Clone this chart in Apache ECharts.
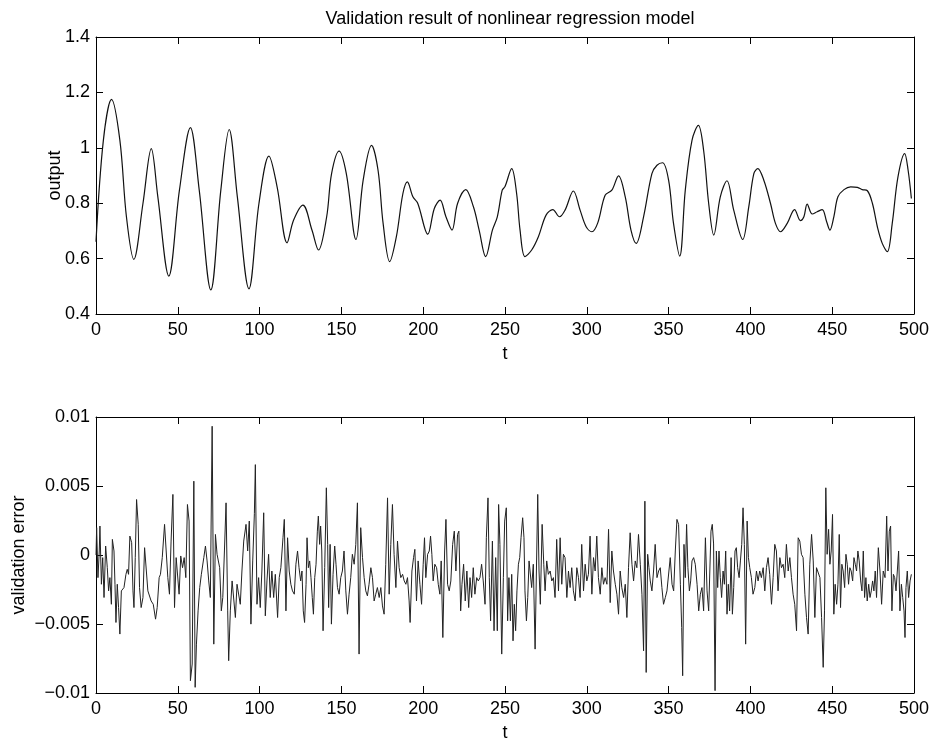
<!DOCTYPE html>
<html>
<head>
<meta charset="utf-8">
<script src="https://cdn.jsdelivr.net/npm/echarts@6/dist/echarts.min.js"></script>
<style>html,body{margin:0;padding:0;background:#fff;}#chart{width:934px;height:742px;}</style>
</head>
<body>
<div id="chart"></div>
<script>
const titleText = 'Validation result of nonlinear regression model';
const xTicks = [0, 50, 100, 150, 200, 250, 300, 350, 400, 450, 500];
const outputTicks = [0.4, 0.6, 0.8, 1, 1.2, 1.4];
const errorTicks = [-0.01, -0.005, 0, 0.005, 0.01];

// [t, output]
const outputData = [
[0,0.661],[4.5,1.027],[9.5,1.175],[14.6,1.027],[18.6,0.751],[23.1,0.597],[28.7,0.799],[33.8,0.997],[37.8,0.823],
[44.5,0.537],[51,0.847],[57.7,1.073],[63.1,0.847],[70.2,0.487],[76.3,0.847],[81.4,1.066],[86.4,0.823],[93.5,0.491],
[99.6,0.799],[105.7,0.970],[110.7,0.859],[116.8,0.657],[120.8,0.739],[126.5,0.793],[132,0.703],[136,0.631],[141,0.751],
[144,0.907],[148.6,0.988],[153,0.907],[158.9,0.669],[163.3,0.883],[168.4,1.009],[172.4,0.919],[175.5,0.727],[179.5,0.589],
[183.6,0.679],[187.6,0.835],[190.3,0.877],[193.7,0.823],[196.7,0.799],[202.8,0.688],[206.8,0.781],[210.3,0.811],[213.9,0.751],
[217.6,0.703],[221,0.799],[226,0.849],[230.7,0.787],[234.2,0.703],[238.2,0.607],[242.3,0.703],[245.3,0.751],[248.3,0.847],
[250,0.860],[254.1,0.925],[257.1,0.835],[259.2,0.703],[262.2,0.607],[266.3,0.631],[270.4,0.679],[275.1,0.757],[279.2,0.777],
[283.3,0.751],[286.7,0.775],[291.8,0.844],[295.9,0.775],[299.6,0.715],[303.1,0.697],[306.7,0.729],[311.2,0.829],[315.3,0.847],
[319.4,0.899],[323.5,0.823],[327,0.703],[330.2,0.655],[334.7,0.751],[339.8,0.907],[342.9,0.937],[346.3,0.946],[350,0.883],
[353,0.727],[356.8,0.609],[360.2,0.847],[364.3,1.027],[368.2,1.081],[371.4,0.991],[374.5,0.799],[377.6,0.685],[381.6,0.823],
[385.7,0.881],[389.8,0.775],[395.3,0.669],[399,0.787],[402.1,0.907],[404.5,0.925],[408.2,0.883],[412.3,0.799],[415.3,0.727],
[418.4,0.697],[422.5,0.727],[427,0.777],[430.6,0.737],[432.7,0.751],[434.7,0.797],[437.8,0.761],[440.8,0.769],[443.9,0.777],
[446.6,0.733],[448.6,0.703],[451,0.751],[453.5,0.823],[457.2,0.849],[461.3,0.859],[465.4,0.857],[468.4,0.849],[471.5,0.845],
[474.6,0.799],[477.6,0.715],[480.6,0.655],[483.7,0.625],[486.7,0.727],[490.2,0.895],[494.3,0.979],[496.4,0.919],[498.4,0.817]
];

// [t, validation error]
const errorData = [
[0,0],[0.4,0.00198],[1.2,-0.00164],[2.0,0.00029],[2.4,0.0021],[3.3,-0.00212],[4.1,-0.00019],[4.9,-0.00308],[5.9,0.00065],
[6.9,-0.00092],[7.7,-0.0026],[8.5,-0.00164],[9.4,-0.00357],[10.0,0.00113],[11.0,0.00029],[11.6,-0.00212],[12.2,-0.00489],
[13.0,-0.00212],[13.8,-0.00381],[14.6,-0.00573],[15.5,-0.0026],[17.1,-0.00236],[18.3,-0.0014],[19.1,-0.00104],[19.9,-0.0014],
[20.7,0.00137],[21.8,0.00089],[22.6,-0.0026],[23.2,-0.00381],[24.0,-0.00019],[24.8,0.00402],[25.8,0.00222],[26.6,-0.00236],
[27.6,-0.00381],[28.7,-0.00308],[29.7,0.00053],[30.7,0.00053],[31.7,-0.0026],[32.7,-0.00272],[33.7,-0.00333],[35.0,-0.00357],
[36.4,-0.00465],[37.4,-0.00381],[38.6,-0.00164],[39.4,-0.0014],[40.5,-0.00019],[41.9,0.00222],[42.9,0.00029],[43.9,-0.00164],
[44.9,-0.00284],[45.9,0.00101],[47.0,0.00439],[48.0,-0.00381],[49.0,-0.00019],[50.0,-0.00019],[50.8,-0.00284],[51.8,-0.00007],
[52.9,-0.00092],[53.9,-0.00019],[54.9,-0.00164],[55.9,0.00366],[56.9,0.00246],[57.7,-0.00911],[58.8,-0.0079],[59.8,0.00535],
[60.6,-0.00959],[61.4,-0.00646],[62.4,-0.00405],[63.4,-0.00236],[64.4,-0.0014],[65.9,-0.00019],[66.9,0.00065],[67.9,-0.00043],
[68.9,-0.00188],[69.9,-0.00308],[71.0,0.00933],[72.0,-0.00646],[73.0,0.00149],[74.0,0.00005],[75.6,-0.00092],[76.6,-0.00405],
[77.5,-0.00308],[78.5,0.00029],[79.5,0.00378],[80.5,-0.00405],[81.1,-0.00766],[82.1,-0.00405],[83.2,-0.00188],[84.2,-0.00176],
[85.2,-0.00453],[86.2,-0.00212],[87.2,-0.00212],[88.2,-0.00357],[89.2,-0.00116],[90.3,0.00101],[91.7,0.00222],[92.7,0.00029],
[93.7,0.00246],[94.7,-0.00501],[95.8,-0.00043],[96.8,0.00299],[97.4,0.00655],[98.4,-0.00357],[99.4,-0.00164],[100.4,-0.00381],
[101.4,-0.00116],[102.5,0.00306],[103.5,-0.00441],[104.5,-0.00188],[105.5,0.00005],[106.5,-0.00308],[107.5,-0.00116],
[108.6,-0.00308],[109.6,-0.0014],[111.0,-0.00453],[112.0,-0.00164],[113.0,-0.00092],[114.3,0.00125],[115.1,0.00258],
[116.1,-0.00405],[117.1,0.00125],[118.1,-0.00116],[119.1,-0.00212],[120.1,-0.0026],[121.2,-0.00284],[122.2,-0.00067],
[123.2,0.00029],[124.1,-0.00092],[125.1,-0.00188],[125.9,-0.00116],[126.7,-0.00405],[127.5,-0.00489],[128.4,-0.00212],
[129.0,0.00125],[129.8,-0.00092],[130.6,-0.00043],[131.4,-0.00164],[132.2,-0.00308],[132.9,-0.00429],[133.7,-0.00164],
[134.5,-0.00067],[135.3,0.00173],[135.9,0.00282],[136.7,0.00077],[137.3,0.0021],[138.0,0.00029],[138.8,-0.00549],
[139.8,-0.00092],[140.8,0.00487],[141.6,0.00077],[142.2,-0.00381],[143.1,0.00077],[143.9,-0.00501],[144.9,-0.0014],
[145.9,0.00065],[146.7,-0.00067],[147.6,-0.00236],[148.6,-0.00284],[149.6,-0.00164],[150.6,-0.00116],[151.6,0.00029],
[152.7,-0.0026],[153.7,-0.00429],[154.7,-0.00284],[155.7,-0.00164],[156.7,0.00005],[157.8,-0.00067],[158.8,0.00077],
[159.8,0.00378],[160.8,-0.00718],[161.8,0.00198],[162.9,-0.00019],[163.9,-0.00164],[164.9,-0.0026],[165.9,-0.00296],
[166.9,-0.00212],[168.0,-0.00092],[169.0,-0.00164],[170.0,-0.00333],[171.0,-0.00284],[172.0,-0.00236],[173.1,-0.00308],
[174.1,-0.00236],[175.1,-0.00369],[176.1,-0.00429],[177.1,-0.00067],[178.2,0.00414],[179.2,-0.00284],[180.2,0.00077],
[181.2,0.00366],[182.2,0.00005],[183.3,-0.00236],[184.3,0.00101],[185.3,-0.00092],[186.3,-0.00164],[187.4,-0.0014],
[188.4,-0.00188],[189.4,-0.00212],[190.4,-0.00164],[191.4,-0.00333],[192.0,-0.00489],[193.1,-0.00116],[194.1,-0.00019],
[194.9,0.00041],[195.9,-0.00333],[196.9,-0.00043],[198.0,-0.00212],[199.0,-0.00357],[200.0,-0.00067],[200.8,0.00125],
[201.6,-0.00164],[202.7,0.00005],[203.7,0.00029],[204.5,0.00137],[205.3,0.00005],[206.1,-0.00188],[207.1,-0.00067],
[208.2,-0.00092],[209.2,-0.00212],[210.2,-0.00284],[211.0,-0.00043],[212.0,-0.00598],[213.1,0.00029],[213.9,0.00258],
[214.9,-0.00212],[215.9,-0.0026],[216.9,-0.00188],[218.0,0.00077],[219.0,0.00173],[220.0,-0.00116],[221.0,0.00149],
[221.8,0.00173],[222.9,-0.00405],[223.7,-0.00212],[224.7,-0.00067],[225.7,-0.00333],[226.7,-0.00116],[227.8,-0.00381],
[228.6,-0.00164],[229.6,-0.00308],[230.6,-0.00092],[231.6,-0.00284],[232.7,-0.00164],[233.7,-0.00188],[234.7,-0.00164],
[235.7,-0.00067],[236.7,-0.00188],[237.8,-0.00357],[238.6,0.00125],[239.6,0.00414],[240.4,-0.00164],[241.2,-0.00477],
[242.3,0.00101],[243.3,-0.00549],[244.3,-0.00019],[245.3,-0.00549],[246.1,0.00366],[246.9,0.00077],[248.0,-0.00718],
[249.0,-0.00164],[249.8,0.00246],[250.8,0.00342],[251.6,-0.00477],[252.4,-0.00164],[253.3,-0.00477],[254.1,-0.0014],
[254.9,-0.00622],[255.7,-0.00357],[256.5,-0.00549],[257.3,-0.0026],[258.2,-0.00067],[259.0,-0.00019],[259.8,0.00125],
[260.8,0.0027],[261.6,0.00125],[262.2,-0.0026],[263.1,-0.00477],[263.9,-0.00308],[264.7,-0.00043],[265.5,-0.00043],
[266.3,-0.00236],[267.3,-0.00067],[268.4,-0.00682],[269.2,-0.00116],[270.0,0.00439],[270.8,-0.00116],[271.6,-0.00357],
[272.7,0.00222],[273.7,-0.00067],[274.5,-0.0026],[275.5,-0.00043],[276.5,-0.0014],[277.6,-0.00116],[278.6,-0.00188],
[279.6,-0.00164],[280.6,-0.00308],[281.6,0.00113],[282.7,-0.0026],[283.7,0.00125],[284.7,-0.00212],[285.7,0.00005],
[286.7,-0.00019],[287.8,-0.00308],[288.8,-0.00116],[289.8,-0.00236],[290.8,-0.00092],[291.8,-0.0026],[292.9,-0.00333],
[293.9,-0.00092],[294.9,-0.00164],[295.9,-0.00308],[296.9,0.00077],[298.0,-0.0026],[299.0,-0.00067],[300.0,-0.00188],
[301.0,-0.0014],[302.0,0.00137],[303.1,-0.00284],[304.1,-0.00019],[305.1,-0.00116],[306.1,0.00137],[307.1,-0.00164],
[308.2,-0.00284],[309.2,-0.00092],[310.2,-0.00212],[311.2,-0.00164],[312.3,-0.00212],[313.3,0.00186],[314.3,-0.00345],
[315.3,0.00029],[316.3,-0.00116],[317.4,-0.00212],[318.4,-0.00284],[319.4,-0.00429],[320.4,-0.00116],[321.4,-0.00236],
[322.5,-0.00308],[323.5,-0.00212],[324.5,-0.00453],[325.5,-0.00092],[326.5,0.00161],[327.6,-0.00067],[328.6,-0.00188],
[329.6,-0.00043],[330.6,-0.00092],[331.6,0.00149],[332.7,-0.00067],[333.7,-0.00284],[334.7,-0.00694],[335.5,0.0039],
[336.3,-0.00851],[337.2,0.00005],[338.0,-0.00092],[338.8,-0.00188],[339.8,-0.0026],[340.8,-0.00116],[341.8,0.00077],
[342.9,-0.00164],[343.9,-0.00116],[344.9,-0.00092],[345.9,-0.00236],[346.9,-0.00357],[348.0,-0.00308],[349.0,-0.0026],
[350.0,-0.0026],[351.0,-0.00019],[352.1,-0.00212],[353.1,-0.0026],[354.1,0.00029],[355.1,0.00258],[356.1,0.00222],
[357.2,-0.00212],[358.0,-0.00525],[358.6,-0.00875],[359.4,0.00077],[360.2,-0.00164],[361.0,0.00222],[361.8,-0.00092],
[362.7,-0.0026],[363.5,-0.00188],[364.3,-0.00043],[365.3,-0.00019],[366.3,-0.00067],[367.4,-0.00212],[368.4,-0.00405],
[369.4,-0.00284],[370.4,-0.00236],[371.4,-0.00405],[372.5,0.00125],[373.5,-0.0026],[374.5,-0.00405],[375.9,0.00173],
[376.7,0.00222],[377.5,0.0008],[378.4,-0.00983],[379.2,0.00029],[380.0,-0.00236],[380.8,0.00029],[381.6,-0.00164],
[382.4,-0.00308],[383.3,-0.00116],[384.1,-0.00212],[384.9,0.00029],[385.7,-0.00429],[386.5,-0.00212],[387.3,-0.00405],
[388.2,-0.00019],[389.0,-0.00429],[389.8,-0.00236],[390.6,0.00029],[391.4,0.00053],[392.2,-0.00092],[393.1,-0.00164],
[393.9,-0.00043],[394.7,0.00077],[395.5,0.00342],[396.3,0.00077],[397.1,-0.00646],[398.0,0.00246],[398.8,-0.00019],
[399.6,-0.00092],[400.6,-0.00164],[401.6,-0.00284],[402.7,-0.00236],[403.7,-0.00116],[404.7,-0.00188],[405.7,-0.00116],
[406.7,-0.00164],[407.8,-0.00092],[408.8,-0.0026],[409.8,-0.00092],[410.8,-0.00019],[411.8,-0.0014],[412.9,-0.00357],
[413.9,-0.00164],[414.9,0.00077],[415.9,0.00029],[416.9,-0.0026],[418.0,-0.00019],[419.0,-0.00092],[420.0,-0.00067],
[421.0,-0.00164],[422.0,0.00077],[423.1,-0.00116],[424.1,-0.00019],[425.1,-0.00164],[426.1,-0.00284],[427.1,-0.00357],
[428.2,-0.00549],[429.2,0.00125],[430.2,0.00101],[431.2,0.00005],[432.2,-0.00019],[433.3,-0.00284],[434.3,-0.00453],
[435.3,-0.00573],[436.3,-0.00067],[437.4,0.00149],[438.4,-0.00043],[439.4,-0.00453],[440.4,-0.00092],[441.4,-0.00092],
[442.5,-0.00164],[443.5,-0.00453],[444.5,-0.00814],[445.3,-0.00405],[446.1,0.00487],[446.9,0.00005],[447.8,0.00186],
[448.6,-0.00067],[449.4,0.00029],[450.2,0.00294],[451.0,-0.00429],[451.8,-0.00212],[452.7,-0.00357],[453.5,-0.00212],
[454.3,0.00149],[455.1,-0.00381],[455.9,-0.00067],[456.7,-0.00116],[457.6,-0.00236],[458.4,0.00005],[459.2,-0.00067],
[460.0,-0.00212],[460.8,-0.00092],[461.6,-0.00116],[462.5,-0.00188],[463.3,-0.00019],[464.1,-0.00067],[464.9,-0.00116],
[465.7,0.00029],[466.5,-0.00043],[467.4,-0.00188],[468.2,-0.0026],[469.0,0.00029],[469.8,-0.00308],[470.6,-0.00164],
[471.4,-0.00333],[472.3,-0.00212],[473.1,-0.00308],[473.9,-0.0026],[474.7,-0.00188],[475.5,-0.0026],[476.3,-0.00116],
[477.1,-0.00308],[478.2,0.00053],[479.2,-0.00116],[480.2,-0.00357],[481.2,-0.00116],[482.3,-0.00164],[483.3,0.00282],
[484.1,-0.00116],[484.9,0.00173],[485.7,0.0021],[486.5,-0.00405],[487.4,-0.0014],[488.2,-0.00164],[489.0,-0.0026],
[489.8,-0.00116],[490.6,0.00029],[491.4,-0.00405],[492.3,-0.00212],[493.1,-0.00308],[493.9,-0.00405],[494.5,-0.00598],
[495.1,-0.00236],[495.9,-0.00116],[496.7,-0.00308],[497.6,-0.00188],[498.4,-0.0014]
];

const FONT = '"Liberation Sans", Arial, Helvetica, sans-serif';
const FS = 18;
const fmtNum = v => {
  let s = String(+v.toFixed(6));
  return s.replace('-', '\u2212');
};
const chart = echarts.init(document.getElementById('chart'), null, {renderer: 'canvas'});

const axisLine = {show: true, onZero: false, lineStyle: {color: '#000', width: 1}};
const tick = {show: true, inside: true, length: 7, lineStyle: {color: '#000', width: 1}};
const lbl = {color: '#000', fontSize: FS, fontFamily: FONT};
const nameStyle = {color: '#000', fontSize: FS, fontFamily: FONT};

function xAxes(gi) {
  return [
    {gridIndex: gi, type: 'value', min: 0, max: 500, interval: 50, position: 'bottom',
     axisLine, axisTick: tick, splitLine: {show: false},
     axisLabel: Object.assign({margin: 7, formatter: v => String(v)}, lbl),
     name: 't', nameLocation: 'middle', nameGap: 31, nameMoveOverlap: false, nameTextStyle: nameStyle},
    {gridIndex: gi, type: 'value', min: 0, max: 500, interval: 50, position: 'top',
     axisLine, axisTick: tick, splitLine: {show: false}, axisLabel: {show: false}}
  ];
}
function yAxes(gi, mn, mx, iv, name, gap) {
  return [
    {gridIndex: gi, type: 'value', min: mn, max: mx, interval: iv, position: 'left',
     axisLine, axisTick: tick, splitLine: {show: false},
     axisLabel: Object.assign({margin: 6, formatter: fmtNum}, lbl),
     name: name, nameLocation: 'middle', nameGap: gap, nameRotate: 90, nameMoveOverlap: false, nameTextStyle: nameStyle},
    {gridIndex: gi, type: 'value', min: mn, max: mx, interval: iv, position: 'right',
     axisLine, axisTick: tick, splitLine: {show: false}, axisLabel: {show: false}}
  ];
}

chart.setOption({
  backgroundColor: '#fff',
  animation: false,
  title: {text: titleText, left: 505, top: 5, textAlign: 'center',
          textStyle: {fontSize: FS, fontWeight: 'normal', color: '#000', fontFamily: FONT}},
  grid: [
    {left: 96, top: 37, width: 818, height: 277, outerBoundsMode: 'none', containLabel: false},
    {left: 96, top: 417, width: 818, height: 276, outerBoundsMode: 'none', containLabel: false}
  ],
  xAxis: [...xAxes(0), ...xAxes(1)],
  yAxis: [...yAxes(0, 0.4, 1.4, 0.2, 'output', 32), ...yAxes(1, -0.01, 0.01, 0.005, 'validation error', 68)],
  series: [
    {type: 'line', xAxisIndex: 0, yAxisIndex: 0, data: outputData, showSymbol: false, smooth: 0.35,
     lineStyle: {color: '#111', width: 1.2}},
    {type: 'line', xAxisIndex: 2, yAxisIndex: 2, data: errorData, showSymbol: false,
     lineStyle: {color: '#222', width: 1}}
  ]
});
</script>
</body>
</html>
